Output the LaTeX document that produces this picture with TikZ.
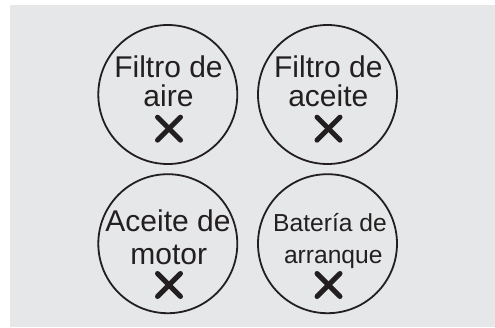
\documentclass[tikz,border=0pt]{standalone}
\usepackage{fontspec}
\setmainfont{Liberation Sans}
\definecolor{bggray}{HTML}{E6E7E8}
\definecolor{ink}{HTML}{231F20}
\begin{document}
\begin{tikzpicture}[x=1pt,y=-1pt,
  ring/.style={circle,draw=ink,line width=1.8pt,minimum size=139pt,inner sep=0pt},
  lbl/.style={anchor=base,inner sep=0pt,text=ink,font=\fontsize{30}{30}\selectfont},
  lblsmall/.style={anchor=base,inner sep=0pt,text=ink,font=\fontsize{24.6}{24.6}\selectfont},
  xmark/.style={draw=ink,line width=5pt,line cap=round}]
\useasboundingbox (0,0) rectangle (495,327);
\fill[bggray] (10,5) rectangle (495,327);
% circles
\node[ring] (c1) at (167.8,94.5) {};
\node[ring] (c2) at (327.5,94.5) {};
\node[ring] (c3) at (167.8,243.7) {};
\node[ring] (c4) at (327.5,243.7) {};
% labels
\node[lbl] (t1a) at (168.5,77.3) {Filtro de};
\node[lbl] (t1b) at (168.5,106.5) {aire};
\node[lbl] (t2a) at (328.3,77.3) {Filtro de};
\node[lbl] (t2b) at (328.3,106.5) {aceite};
\node[lbl] (t3a) at (168,231) {Aceite de};
\node[lbl] (t3b) at (168.7,264) {motor};
\node[lblsmall] (t4a) at (330,231) {Batería de};
\node[lblsmall] (t4b) at (333.3,263) {arranque};
% crosses
\coordinate (x1) at (169,128.7);
\coordinate (x2) at (328.5,128.7);
\coordinate (x3) at (169,285);
\coordinate (x4) at (328.5,285);
\foreach \p in {x1,x2,x3,x4}{
  \draw[xmark] ([shift={(-11.5,-11.5)}]\p) -- ([shift={(11.5,11.5)}]\p);
  \draw[xmark] ([shift={(-11.5,11.5)}]\p) -- ([shift={(11.5,-11.5)}]\p);
}
\end{tikzpicture}
\end{document}
